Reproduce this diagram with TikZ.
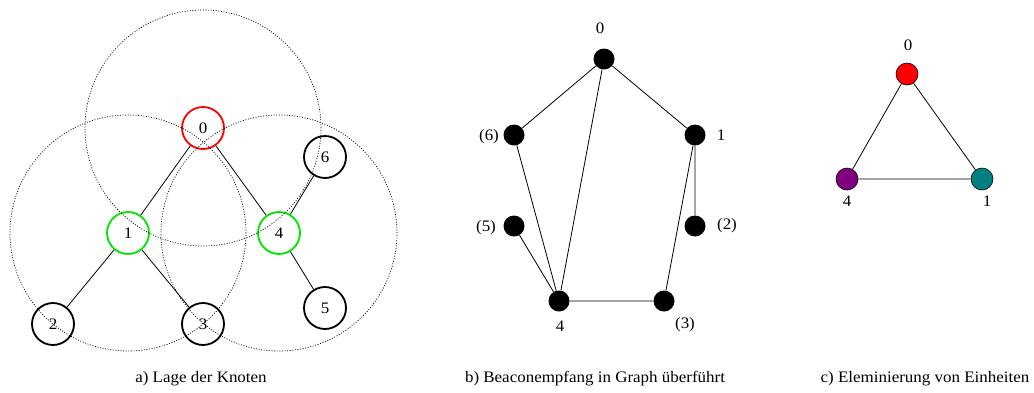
\documentclass[tikz,border=0pt]{standalone}
\usepackage{fontspec}
\setmainfont[FakeStretch=1.06]{Liberation Serif}
\begin{document}
\begin{tikzpicture}[x=1pt,y=-1pt,
  font=\fontsize{16}{19}\selectfont,
  bignode/.style={circle,draw,line width=1.8pt,minimum size=42pt,inner sep=0pt},
  dotnode/.style={circle,fill=black,minimum size=21pt,inner sep=0pt},
  colnode/.style={circle,draw=black,line width=0.6pt,minimum size=22pt,inner sep=0pt},
  rangec/.style={draw,line width=0.7pt,dash pattern=on 1pt off 1.6pt},
  edge/.style={draw,line width=0.8pt},
  lbl/.style={inner sep=0pt}]
\useasboundingbox (0,0) rectangle (1034,392);
% ---------- a)
\node[bignode,draw=red] (a0) at (203,128) {0};
\node[bignode,draw={rgb,255:red,0;green,230;blue,0}] (a1) at (128,233) {1};
\node[bignode,draw={rgb,255:red,0;green,230;blue,0}] (a4) at (279,233) {4};
\node[bignode] (a6) at (325,157) {6};
\node[bignode] (a5) at (325,308) {5};
\node[bignode] (a2) at (53,324) {2};
\node[bignode] (a3) at (203,324) {3};
\path[edge] (a0) -- (a1) (a0) -- (a4) (a1) -- (a2) (a1) -- (a3) (a4) -- (a6) (a4) -- (a5);
\draw[rangec] (a0.center) circle[radius=118pt];
\draw[rangec] (a1.center) circle[radius=118pt];
\draw[rangec] (a4.center) circle[radius=118pt];
\node[lbl] (capa) at (201,379) {a) Lage der Knoten};
% ---------- b)
\node[dotnode] (b0) at (604,59) {};
\node[dotnode] (b6) at (514,135) {};
\node[dotnode] (b1) at (695,135) {};
\node[dotnode] (b5) at (514,226) {};
\node[dotnode] (b2) at (695,226) {};
\node[dotnode] (b4) at (559,301) {};
\node[dotnode] (b3) at (664,301) {};
\path[edge] (b0) -- (b6) (b0) -- (b4) (b0) -- (b1) (b6) -- (b4) (b5) -- (b4)
  (b1) -- (b2) (b1) -- (b3) (b4) -- (b3);
\node[lbl] (lb0) at (600,28) {0};
\node[lbl] (lb6) at (489,137) {(6)};
\node[lbl] (lb1) at (721,135) {1};
\node[lbl] (lb5) at (486,228) {(5)};
\node[lbl] (lb2) at (727,226) {(2)};
\node[lbl] (lb4) at (560,326) {4};
\node[lbl] (lb3) at (685,325) {(3)};
\node[lbl] (capb) at (595,379) {b) Beaconempfang in Graph überführt};
% ---------- c)
\node[colnode,fill=red] (c0) at (907,74) {};
\node[colnode,fill={rgb,255:red,128;green,0;blue,128}] (c4) at (847,179) {};
\node[colnode,fill={rgb,255:red,0;green,128;blue,128}] (c1) at (982,179) {};
\path[edge] (c0) -- (c4) (c0) -- (c1) (c4) -- (c1);
\node[lbl] (lc0) at (908,45) {0};
\node[lbl] (lc4) at (847,201) {4};
\node[lbl] (lc1) at (987,201) {1};
\node[lbl] (capc) at (925,379) {c) Eleminierung von Einheiten};
\end{tikzpicture}
\end{document}
